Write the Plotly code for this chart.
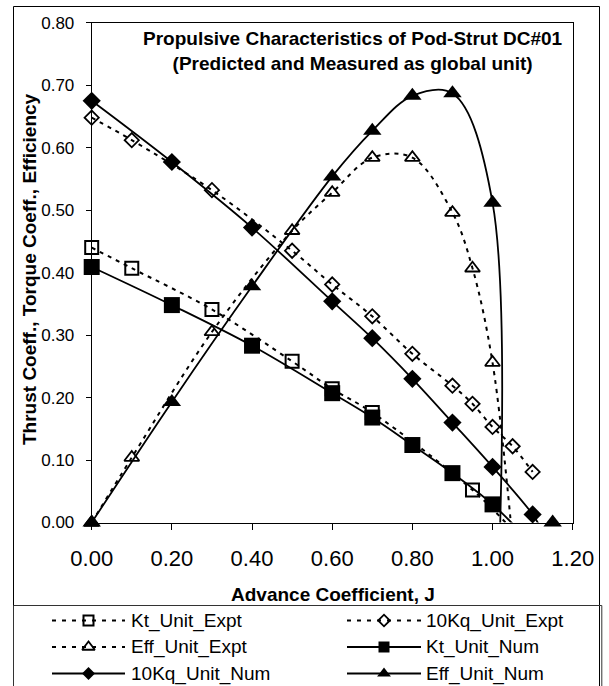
import plotly.graph_objects as go

W, H = 609, 686
FONT = "Arial, 'Liberation Sans', sans-serif"

# ---------------- data ----------------
kt_expt_j = [0.0, 0.1, 0.3, 0.5, 0.6, 0.7, 0.95]
kt_expt = [0.440, 0.407, 0.341, 0.258, 0.214, 0.176, 0.052]
kt_expt_tail_j = [1.05]
kt_expt_tail = [-0.012]

kq_expt_j = [0.0, 0.1, 0.3, 0.5, 0.6, 0.7, 0.8, 0.9, 0.95, 1.0, 1.05, 1.1]
kq_expt = [0.648, 0.612, 0.532, 0.435, 0.381, 0.330, 0.270, 0.219, 0.190, 0.153, 0.122, 0.081]

eff_expt_j = [0.0, 0.1, 0.3, 0.5, 0.6, 0.7, 0.8, 0.9, 0.95, 1.0]
eff_expt = [0.0, 0.104, 0.305, 0.467, 0.528, 0.584, 0.584, 0.496, 0.407, 0.256]
eff_expt_tail_j = [1.05]
eff_expt_tail = [-0.03]

kt_num_j = [0.0, 0.2, 0.4, 0.6, 0.7, 0.8, 0.9, 1.0]
kt_num = [0.409, 0.348, 0.283, 0.207, 0.168, 0.124, 0.079, 0.029]
kt_num_tail_j = [1.065]
kt_num_tail = [-0.012]

kq_num_j = [0.0, 0.2, 0.4, 0.6, 0.7, 0.8, 0.9, 1.0, 1.1]
kq_num = [0.675, 0.577, 0.472, 0.354, 0.295, 0.230, 0.160, 0.089, 0.013]
kq_num_tail_j = [1.125]
kq_num_tail = [-0.015]

eff_num_j = [0.0, 0.2, 0.4, 0.6, 0.7, 0.8, 0.9, 1.0]
eff_num = [0.0, 0.193, 0.378, 0.554, 0.627, 0.683, 0.687, 0.512]
eff_num_tail_j = [1.002]
eff_num_tail = [-0.3]
eff_num_end_j = [1.15]
eff_num_end = [0.0]

names = ["Kt_Unit_Expt", "10Kq_Unit_Expt", "Eff_Unit_Expt",
         "Kt_Unit_Num", "10Kq_Unit_Num", "Eff_Unit_Num"]

x_ticks = [0.0, 0.2, 0.4, 0.6, 0.8, 1.0, 1.2]
y_ticks = [0.0, 0.1, 0.2, 0.3, 0.4, 0.5, 0.6, 0.7, 0.8]

# ---------------- styles ----------------
DASH = "4px,5px"
LEG_DASH = "4px,6px"
styles = [
    dict(dash=DASH, symbol="square-open", size=13, lw=2.0, msize_leg=10),
    dict(dash=DASH, symbol="diamond-open", size=11, lw=1.8, msize_leg=9),
    dict(dash=DASH, symbol="triangle-up-open", size=13, lw=1.8, msize_leg=11),
    dict(dash="solid", symbol="square", size=16, lw=0, msize_leg=11),
    dict(dash="solid", symbol="diamond", size=14, lw=0, msize_leg=10),
    dict(dash="solid", symbol="triangle-up", size=16, lw=0, msize_leg=12),
]

series = [
    (kt_expt_j, kt_expt, kt_expt_tail_j, kt_expt_tail),
    (kq_expt_j, kq_expt, [], []),
    (eff_expt_j, eff_expt, eff_expt_tail_j, eff_expt_tail),
    (kt_num_j, kt_num, kt_num_tail_j, kt_num_tail),
    (kq_num_j, kq_num, kq_num_tail_j, kq_num_tail),
    (eff_num_j, eff_num, eff_num_tail_j, eff_num_tail),
]

fig = go.Figure()

for (xs, ys, tx, ty), st, nm in zip(series, styles, names):
    fig.add_trace(go.Scatter(
        x=list(xs) + list(tx), y=list(ys) + list(ty), mode="lines",
        line=dict(color="black", width=2 if st["dash"] != "solid" else 1.8,
                  dash=st["dash"], shape="spline", smoothing=1.0),
        showlegend=False, hoverinfo="skip", xaxis="x", yaxis="y"))

for (xs, ys, tx, ty), st, nm in zip(series, styles, names):
    mx, my = list(xs), list(ys)
    if nm == "Eff_Unit_Num":
        mx += eff_num_end_j
        my += eff_num_end
    fig.add_trace(go.Scatter(
        x=mx, y=my, mode="markers", name=nm,
        marker=dict(symbol=st["symbol"], size=st["size"], color="black",
                    line=dict(color="black", width=st["lw"])),
        cliponaxis=False, showlegend=False, xaxis="x", yaxis="y"))

# ---------------- custom legend (drawn in a pixel-space helper axis) ----------------
LEG_TOP = 604
row_y = [620.5, 647.0, 673.5]
col_line = [(52, 125), (347, 421)]
col_text = [129, 424]
annotations = []
for i, (nm, st) in enumerate(zip(names, styles)):
    r, c = i // 2, i % 2
    x0, x1 = col_line[c]
    yy = row_y[r]
    fig.add_trace(go.Scatter(
        x=[x0, x1], y=[yy, yy], mode="lines",
        line=dict(color="black", width=2 if st["dash"] != "solid" else 1.8,
                  dash=LEG_DASH if st["dash"] != "solid" else "solid"),
        showlegend=False, hoverinfo="skip", xaxis="x2", yaxis="y2"))
    fig.add_trace(go.Scatter(
        x=[(x0 + x1) / 2], y=[yy], mode="markers",
        marker=dict(symbol=st["symbol"], size=st["msize_leg"], color="black",
                    line=dict(color="black", width=st["lw"])),
        cliponaxis=False, showlegend=False, hoverinfo="skip", xaxis="x2", yaxis="y2"))
    annotations.append(dict(
        x=col_text[c], y=yy, xref="x2", yref="y2", text=nm, showarrow=False,
        xanchor="left", yanchor="middle", font=dict(family=FONT, size=19, color="black")))

# titles
annotations.append(dict(
    x=353 / W, y=1 - 51 / H, xref="paper", yref="paper", showarrow=False,
    text="<b>Propulsive Characteristics of Pod-Strut DC#01</b><br><b>(Predicted and Measured as global unit)</b>",
    xanchor="center", yanchor="middle", align="center",
    font=dict(family=FONT, size=19, color="black")))
annotations.append(dict(
    x=332.5 / W, y=1 - 594 / H, xref="paper", yref="paper", showarrow=False,
    text="<b>Advance Coefficient, J</b>", xanchor="center", yanchor="middle",
    font=dict(family=FONT, size=19, color="black")))
annotations.append(dict(
    x=29.5 / W, y=1 - 269.5 / H, xref="paper", yref="paper", showarrow=False,
    text="<b>Thrust Coeff., Torque Coeff., Efficiency</b>", textangle=-90,
    xanchor="center", yanchor="middle",
    font=dict(family=FONT, size=19, color="black")))

shapes = [
    dict(type="rect", xref="paper", yref="paper", x0=13.5 / W, x1=599.5 / W,
         y0=-20 / H, y1=1 - 6.5 / H, line=dict(color="black", width=1)),
    dict(type="rect", xref="paper", yref="paper", x0=13.5 / W, x1=601.8 / W,
         y0=-20 / H, y1=1 - (LEG_TOP + 1.5) / H, line=dict(color="#333333", width=1)),
]

fig.update_layout(
    width=W, height=H, autosize=False,
    margin=dict(l=0, r=0, t=0, b=0, pad=0, autoexpand=False),
    paper_bgcolor="white", plot_bgcolor="rgba(0,0,0,0)",
    font=dict(family=FONT, color="black"),
    showlegend=False,
    xaxis=dict(domain=[91.7 / W, 572.7 / W], range=[0, 1.2], tickvals=x_ticks,
               tickformat=".2f", ticks="outside", ticklen=6, tickcolor="black",
               showline=True, linecolor="black", linewidth=1, mirror=True,
               showgrid=False, zeroline=False, anchor="y", automargin=False,
               tickfont=dict(family=FONT, size=22, color="black"), ticklabelstandoff=10),
    yaxis=dict(domain=[1 - 522.5 / H, 1 - 22.7 / H], range=[0, 0.8], tickvals=y_ticks,
               tickformat=".2f", ticks="outside", ticklen=5, tickcolor="black",
               showline=True, linecolor="black", linewidth=1, mirror=True,
               showgrid=False, zeroline=False, anchor="x", automargin=False,
               tickfont=dict(family=FONT, size=17, color="black"), ticklabelstandoff=8),
    xaxis2=dict(domain=[0, 1], range=[0, W], visible=False, anchor="y2",
                fixedrange=True, automargin=False),
    yaxis2=dict(domain=[0, (H - LEG_TOP) / H], range=[H, LEG_TOP], visible=False,
                anchor="x2", fixedrange=True, automargin=False),
    annotations=annotations, shapes=shapes,
)

fig.write_html(
    "out.html",
    config={"responsive": False, "displayModeBar": False},
    post_script="document.body.style.margin='0px';document.body.style.overflow='hidden';",
)
